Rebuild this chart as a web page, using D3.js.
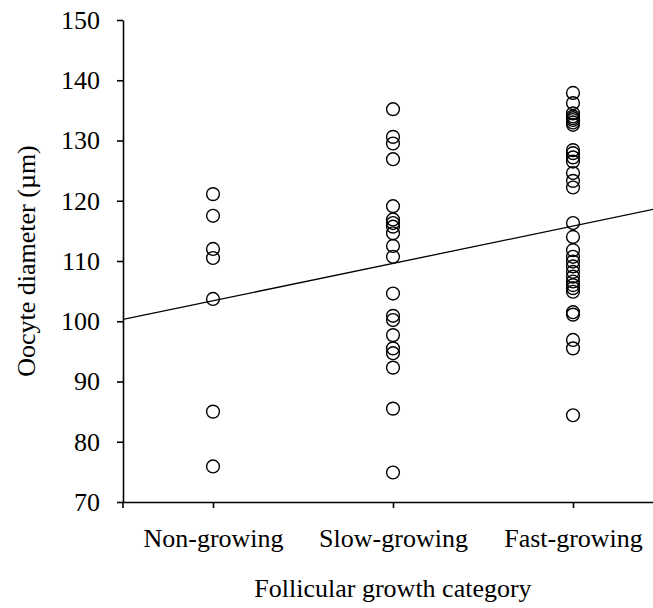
<!DOCTYPE html>
<html>
<head>
<meta charset="utf-8">
<script src="https://cdn.jsdelivr.net/npm/d3@7"></script>
<style>
  body { margin: 0; background: #fff; }
  text { font-family: "Liberation Serif", "Times New Roman", serif; fill: #000; }
</style>
</head>
<body>
<div id="chart"></div>
<script>
const FRAME_WIDTH = 653;
const FRAME_HEIGHT = 608;

// categories and their x positions
const categories = ["Non-growing", "Slow-growing", "Fast-growing"];
const catPos = [1, 2, 3];

// oocyte diameters (µm)
const nonGrowing = [121.1, 117.5, 112.0, 110.5, 103.7, 85.0, 75.9];
const slowGrowing = [135.2, 130.6, 129.5, 126.9, 119.1, 116.9, 116.3, 115.7, 114.6, 112.5, 110.7,
                     104.6, 100.9, 100.2, 97.7, 95.5, 94.7, 92.3, 85.5, 74.9];
const fastGrowing = [137.9, 136.2, 134.5, 134.0, 133.7, 133.4, 133.0, 132.6,
                     128.4, 127.9, 127.2, 126.5, 124.6, 123.3, 122.2,
                     116.3, 114.0, 111.8, 110.7, 109.9, 109.1, 108.2, 107.4, 106.6, 106.0, 105.5, 104.9,
                     101.5, 101.1, 96.9, 95.5, 84.4];

const yTicks = [70, 80, 90, 100, 110, 120, 130, 140, 150];

// regression line: value = intercept + slope * category position
const lineIntercept = 97.2;
const lineSlope = 6.2;

const groups = [nonGrowing, slowGrowing, fastGrowing];
const points = [];
groups.forEach((vals, i) => {
    vals.forEach(v => points.push({x: catPos[i], y: v}));
});

const svg = d3.select("#chart")
  .append("svg")
    .attr("width", FRAME_WIDTH)
    .attr("height", FRAME_HEIGHT);

// x = 0.5 sits on the y axis, right end runs off the picture
const x = d3.scaleLinear()
    .domain([0.5, 3.5])
    .range([123, 663]);

const y = d3.scaleLinear()
    .domain([70, 150])
    .range([502, 20]);

// Y axis
const yAxis = svg.append("g")
    .attr("transform", "translate(123,0)")
    .call(d3.axisLeft(y).tickValues(yTicks).tickSize(6).tickPadding(17).tickSizeOuter(0));
yAxis.select(".domain").attr("stroke-width", 1.6);
yAxis.selectAll(".tick line").attr("stroke-width", 1.6);
yAxis.selectAll("text").style("font-size", "26px").attr("fill", "#000");

// X axis
const xAxis = svg.append("g")
    .attr("transform", "translate(0,502)")
    .call(d3.axisBottom(x).tickValues(catPos)
        .tickFormat((d, i) => categories[i])
        .tickSize(6).tickPadding(21).tickSizeOuter(0));
xAxis.select(".domain").attr("stroke-width", 1.6);
xAxis.selectAll(".tick line").attr("stroke-width", 1.6);
xAxis.selectAll("text").style("font-size", "26px").attr("fill", "#000");

// small stub of y axis below the x axis
svg.append("line")
    .attr("x1", 123).attr("x2", 123)
    .attr("y1", 502).attr("y2", 508)
    .attr("stroke", "#000").attr("stroke-width", 1.6);

// clip so the fit line stops at the y axis
svg.append("clipPath").attr("id", "plotclip")
  .append("rect")
    .attr("x", 123).attr("y", 0)
    .attr("width", FRAME_WIDTH - 123).attr("height", 502);

// regression line
svg.append("line")
    .attr("clip-path", "url(#plotclip)")
    .attr("x1", x(0.5)).attr("y1", y(lineIntercept + lineSlope * 0.5))
    .attr("x2", x(3.5)).attr("y2", y(lineIntercept + lineSlope * 3.5))
    .attr("stroke", "#000")
    .attr("stroke-width", 1.3);

// points
svg.append("g")
  .selectAll("circle")
  .data(points)
  .enter()
  .append("circle")
    .attr("cx", d => x(d.x))
    .attr("cy", d => y(d.y))
    .attr("r", 6.4)
    .attr("fill", "none")
    .attr("stroke", "#000")
    .attr("stroke-width", 1.4);

// axis titles
svg.append("text")
    .attr("x", 393)
    .attr("y", 597)
    .attr("text-anchor", "middle")
    .style("font-size", "26px")
    .text("Follicular growth category");

svg.append("text")
    .attr("transform", "translate(35,261) rotate(-90)")
    .attr("text-anchor", "middle")
    .style("font-size", "26px")
    .text("Oocyte diameter (µm)");
</script>
</body>
</html>
